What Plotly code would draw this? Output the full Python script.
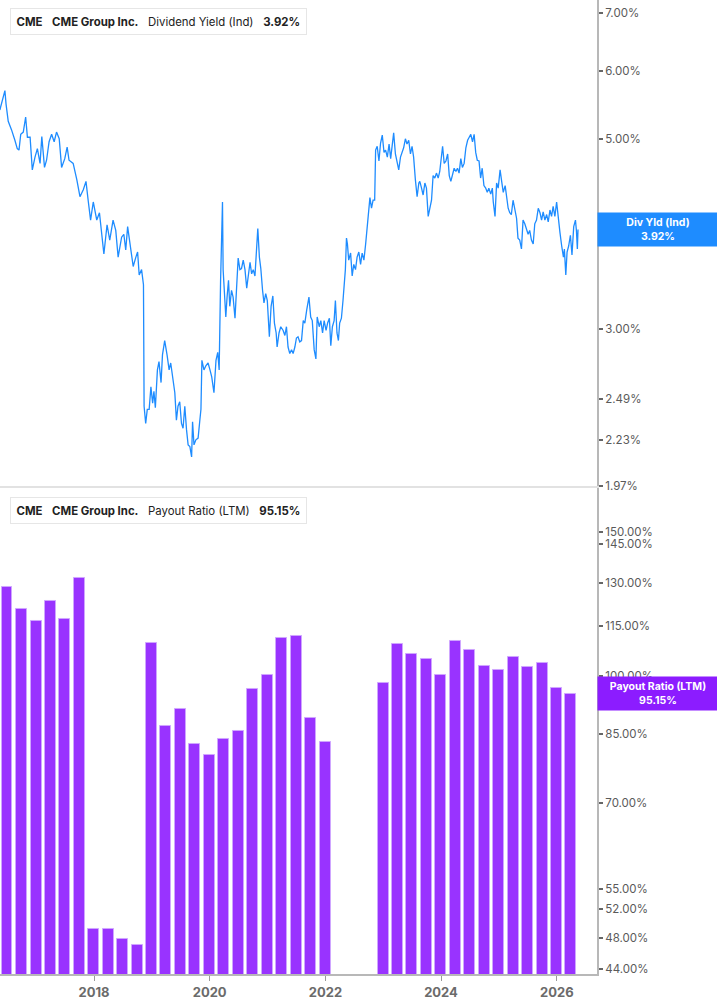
import numpy as np
import plotly.graph_objects as go

# --- Dividend yield (Ind), % ---
yield_dates = [
    "2016-05-16", "2016-05-27", "2016-06-07", "2016-06-17", "2016-06-24", "2016-07-08", "2016-07-29", "2016-08-09",
    "2016-08-19", "2016-09-03", "2016-09-14", "2016-09-25", "2016-10-11", "2016-10-26", "2016-11-06", "2016-11-23",
    "2016-12-07", "2016-12-24", "2017-01-08", "2017-01-25", "2017-02-05", "2017-02-22", "2017-03-07", "2017-03-23",
    "2017-04-08", "2017-04-24", "2017-05-09", "2017-05-26", "2017-06-10", "2017-06-30", "2017-07-15", "2017-07-27",
    "2017-08-22", "2017-09-14", "2017-10-04", "2017-10-25", "2017-11-11", "2017-11-26", "2017-12-10", "2017-12-27",
    "2018-01-18", "2018-02-04", "2018-02-19", "2018-03-04", "2018-03-24", "2018-04-10", "2018-05-01", "2018-05-18",
    "2018-06-02", "2018-06-24", "2018-07-08", "2018-07-20", "2018-08-01", "2018-08-20", "2018-09-05", "2018-09-22",
    "2018-10-03", "2018-10-13", "2018-10-28", "2018-11-09", "2018-11-13", "2018-11-23", "2018-12-03", "2018-12-15",
    "2018-12-26", "2019-01-06", "2019-01-14", "2019-01-23", "2019-02-05", "2019-02-15", "2019-02-28", "2019-03-09",
    "2019-03-23", "2019-04-07", "2019-04-20", "2019-04-30", "2019-05-15", "2019-05-26", "2019-06-05", "2019-06-15",
    "2019-06-26", "2019-07-07", "2019-07-17", "2019-07-28", "2019-08-08", "2019-08-18", "2019-08-29", "2019-09-09",
    "2019-09-15", "2019-09-24", "2019-10-06", "2019-10-20", "2019-10-31", "2019-11-07", "2019-11-13", "2019-11-26",
    "2019-12-08", "2019-12-22", "2020-01-03", "2020-01-14", "2020-01-28", "2020-02-10", "2020-02-21", "2020-03-01",
    "2020-03-10", "2020-03-18", "2020-03-22", "2020-03-26", "2020-04-04", "2020-04-12", "2020-04-20", "2020-04-29",
    "2020-05-07", "2020-05-18", "2020-05-28", "2020-06-09", "2020-06-19", "2020-06-29", "2020-07-10", "2020-07-20",
    "2020-07-31", "2020-08-11", "2020-08-22", "2020-09-01", "2020-09-12", "2020-09-22", "2020-10-02", "2020-10-13",
    "2020-10-24", "2020-10-31", "2020-11-10", "2020-11-19", "2020-11-30", "2020-12-09", "2020-12-20", "2020-12-30",
    "2021-01-12", "2021-01-23", "2021-02-03", "2021-02-13", "2021-02-24", "2021-03-02", "2021-03-14", "2021-03-25",
    "2021-04-09", "2021-04-20", "2021-04-30", "2021-05-10", "2021-05-21", "2021-06-01", "2021-06-11", "2021-06-22",
    "2021-07-02", "2021-07-12", "2021-07-23", "2021-08-03", "2021-08-14", "2021-08-24", "2021-09-05", "2021-09-19",
    "2021-09-30", "2021-10-10", "2021-10-22", "2021-11-02", "2021-11-10", "2021-11-23", "2021-12-03", "2021-12-14",
    "2021-12-24", "2022-01-05", "2022-01-15", "2022-01-26", "2022-02-04", "2022-02-14", "2022-02-25", "2022-03-05",
    "2022-03-15", "2022-03-24", "2022-04-01", "2022-04-12", "2022-04-22", "2022-04-29", "2022-05-07", "2022-05-14",
    "2022-05-20", "2022-05-28", "2022-06-09", "2022-06-19", "2022-06-29", "2022-07-10", "2022-07-20", "2022-07-31",
    "2022-08-11", "2022-08-21", "2022-09-01", "2022-09-12", "2022-09-22", "2022-09-28", "2022-10-09", "2022-10-19",
    "2022-10-29", "2022-11-08", "2022-11-14", "2022-11-24", "2022-12-05", "2022-12-15", "2022-12-26", "2023-01-06",
    "2023-01-16", "2023-01-27", "2023-02-07", "2023-02-17", "2023-02-27", "2023-03-08", "2023-03-19", "2023-03-29",
    "2023-04-09", "2023-04-20", "2023-04-30", "2023-05-10", "2023-05-21", "2023-05-31", "2023-06-11", "2023-06-22",
    "2023-07-02", "2023-07-12", "2023-07-23", "2023-08-03", "2023-08-14", "2023-08-20", "2023-08-31", "2023-09-10",
    "2023-09-21", "2023-10-01", "2023-10-12", "2023-10-22", "2023-11-02", "2023-11-12", "2023-11-23", "2023-12-03",
    "2023-12-14", "2023-12-24", "2024-01-05", "2024-01-11", "2024-01-21", "2024-02-01", "2024-02-12", "2024-02-22",
    "2024-03-03", "2024-03-14", "2024-03-24", "2024-04-04", "2024-04-14", "2024-04-24", "2024-05-05", "2024-05-15",
    "2024-05-26", "2024-06-06", "2024-06-17", "2024-06-27", "2024-07-07", "2024-07-18", "2024-07-28", "2024-08-07",
    "2024-08-17", "2024-08-28", "2024-09-07", "2024-09-17", "2024-09-28", "2024-10-09", "2024-10-19", "2024-10-29",
    "2024-11-10", "2024-11-20", "2024-11-26", "2024-12-07", "2024-12-17", "2024-12-27", "2025-01-08", "2025-01-18",
    "2025-01-28", "2025-02-09", "2025-02-19", "2025-02-28", "2025-03-10", "2025-03-20", "2025-03-31", "2025-04-11",
    "2025-04-22", "2025-05-01", "2025-05-12", "2025-05-23", "2025-06-02", "2025-06-13", "2025-06-24", "2025-07-04",
    "2025-07-14", "2025-07-25", "2025-08-05", "2025-08-15", "2025-08-26", "2025-09-06", "2025-09-17", "2025-09-27",
    "2025-10-07", "2025-10-18", "2025-10-29", "2025-11-08", "2025-11-19", "2025-11-29", "2025-12-09", "2025-12-20",
    "2025-12-31", "2026-01-10", "2026-01-21", "2026-02-01", "2026-02-12", "2026-02-18", "2026-02-27", "2026-03-07",
    "2026-03-17", "2026-03-28", "2026-04-07", "2026-04-18", "2026-04-29", "2026-05-05", "2026-05-11", "2026-05-15",
]
div_yield = [
    5.40, 5.49, 5.58, 5.69, 5.49, 5.24, 5.12, 5.06,
    4.98, 4.87, 4.85, 5.06, 5.09, 5.30, 5.02, 5.02,
    4.60, 4.76, 4.87, 4.68, 5.03, 4.63, 4.72, 4.96,
    5.06, 4.96, 5.09, 5.00, 4.63, 4.74, 4.89, 4.72,
    4.68, 4.48, 4.28, 4.36, 4.46, 4.22, 4.02, 4.22,
    4.02, 4.10, 3.84, 3.67, 3.97, 3.81, 4.02, 3.91,
    3.64, 3.84, 3.87, 3.71, 3.95, 3.75, 3.55, 3.64,
    3.69, 3.47, 3.52, 3.38, 2.44, 2.33, 2.42, 2.42,
    2.57, 2.46, 2.54, 2.43, 2.69, 2.75, 2.60, 2.80,
    2.91, 2.80, 2.69, 2.74, 2.59, 2.53, 2.35, 2.44,
    2.47, 2.33, 2.30, 2.44, 2.29, 2.20, 2.19, 2.13,
    2.34, 2.20, 2.23, 2.24, 2.35, 2.42, 2.76, 2.69,
    2.72, 2.74, 2.69, 2.64, 2.53, 2.76, 2.82, 2.69,
    3.42, 3.97, 4.22, 3.52, 3.33, 3.10, 3.27, 3.42,
    3.19, 3.33, 3.27, 3.09, 3.35, 3.63, 3.52, 3.53,
    3.61, 3.52, 3.35, 3.47, 3.59, 3.48, 3.52, 3.46,
    3.69, 3.93, 3.64, 3.53, 3.33, 3.22, 3.30, 3.24,
    2.94, 3.19, 3.28, 3.05, 2.97, 2.86, 2.97, 3.02,
    2.99, 2.95, 3.02, 2.86, 2.81, 2.84, 2.81, 2.86,
    2.93, 2.94, 2.90, 2.91, 3.07, 3.05, 3.16, 3.27,
    3.10, 3.07, 2.84, 2.77, 3.10, 3.02, 3.07, 2.97,
    3.07, 2.99, 3.05, 3.09, 2.87, 3.02, 3.07, 3.24,
    2.97, 2.91, 3.05, 3.09, 3.24, 3.38, 3.52, 3.83,
    3.77, 3.61, 3.68, 3.46, 3.57, 3.52, 3.64, 3.69,
    3.57, 3.68, 3.61, 3.77, 3.97, 4.06, 4.27, 4.15,
    4.24, 4.24, 4.85, 4.90, 4.71, 4.94, 5.05, 4.82,
    4.85, 4.76, 4.93, 4.74, 4.93, 5.08, 4.80, 4.72,
    4.60, 4.76, 4.82, 4.88, 5.00, 4.93, 4.98, 4.80,
    4.90, 4.76, 4.48, 4.28, 4.44, 4.46, 4.38, 4.30,
    4.44, 4.38, 4.06, 4.17, 4.24, 4.53, 4.50, 4.56,
    4.50, 4.58, 4.80, 4.90, 4.68, 4.71, 4.80, 4.53,
    4.46, 4.53, 4.62, 4.58, 4.62, 4.56, 4.74, 4.63,
    4.68, 4.88, 4.98, 5.02, 5.06, 4.96, 5.06, 4.82,
    4.72, 4.71, 4.50, 4.62, 4.41, 4.38, 4.33, 4.38,
    4.31, 4.38, 4.22, 4.06, 4.44, 4.38, 4.60, 4.46,
    4.33, 4.41, 4.28, 4.15, 4.10, 4.08, 4.24, 4.13,
    4.04, 3.83, 3.81, 3.72, 4.02, 3.98, 3.93, 3.87,
    3.91, 3.81, 3.77, 3.98, 4.02, 4.15, 4.10, 4.02,
    4.11, 4.02, 4.08, 4.00, 4.13, 4.06, 4.17, 4.06,
    4.22, 4.02, 3.89, 3.75, 3.64, 3.72, 3.47, 3.69,
    3.75, 3.86, 3.66, 3.95, 4.02, 3.91, 3.72, 3.92,
]

# --- Payout ratio (LTM), %, quarter ends ---
quarter_ends = [
    "2016-06-30", "2016-09-30", "2016-12-31", "2017-03-31", "2017-06-30", "2017-09-30", "2017-12-31",
    "2018-03-31", "2018-06-30", "2018-09-30", "2018-12-31", "2019-03-31", "2019-06-30", "2019-09-30",
    "2019-12-31", "2020-03-31", "2020-06-30", "2020-09-30", "2020-12-31", "2021-03-31", "2021-06-30",
    "2021-09-30", "2021-12-31", "2022-03-31", "2022-06-30", "2022-09-30", "2022-12-31", "2023-03-31",
    "2023-06-30", "2023-09-30", "2023-12-31", "2024-03-31", "2024-06-30", "2024-09-30", "2024-12-31",
    "2025-03-31", "2025-06-30", "2025-09-30", "2025-12-31", "2026-03-31",
]
payout = [
    128.3, 120.7, 116.6, 123.3, 117.4, 131.8, 49.1,
    49.2, 47.8, 47.0, 109.6, 86.9, 91.1, 82.6,
    80.1, 83.9, 85.8, 96.4, 100.2, 111.3, 111.9,
    89.0, 83.0, None, None, None, 98.0, 109.3,
    106.3, 104.9, 100.3, 110.3, 107.5, 102.8, 101.7,
    105.4, 102.5, 103.6, 96.6, 95.15,
]

yield_ticks = [1.97, 2.23, 2.49, 3.00, 4.00, 5.00, 6.00, 7.00]
payout_ticks = [44, 48, 52, 55, 70, 85, 100, 115, 130, 145, 150]
year_ticks = ["2018-01-01", "2020-01-01", "2022-01-01", "2024-01-01", "2026-01-01"]
year_labels = ["2018", "2020", "2022", "2024", "2026"]

last_yield = 3.92
last_payout = 95.15

BLUE = "#1e8cff"
PURPLE = "#9933ff"
FONT = "Inter"

fig = go.Figure()

fig.add_trace(go.Scatter(
    x=yield_dates, y=div_yield, mode="lines",
    line=dict(color=BLUE, width=1.3),
    xaxis="x2", yaxis="y", showlegend=False,
))

fig.add_trace(go.Bar(
    x=quarter_ends, y=payout,
    width=69 * 24 * 3600 * 1000,
    marker=dict(color=PURPLE, line=dict(color="#cfa6ff", width=1)),
    xaxis="x", yaxis="y2", showlegend=False,
))

axis_font = dict(family=FONT, size=11.5, color="#5a5a5a")

fig.update_layout(
    width=717, height=1005,
    margin=dict(l=0, r=120, t=0, b=31),
    paper_bgcolor="white", plot_bgcolor="white",
    font=dict(family=FONT),
    bargap=0,
    xaxis=dict(
        domain=[0, 1], anchor="y2", type="date",
        range=["2016-05-17", "2026-09-12"],
        tickvals=year_ticks, ticktext=[f"<b>{t}</b>" for t in year_labels],
        tickfont=dict(family=FONT, size=13, color="#6b6b6b"),
        ticks="outside", ticklen=5, tickcolor="#9a9a9a", tickwidth=1,
        showline=True, linecolor="#b8b8b8", linewidth=2,
        showgrid=False, zeroline=False,
    ),
    xaxis2=dict(
        matches="x", anchor="y", type="date",
        showticklabels=False, ticks="",
        showline=True, linecolor="#e2e2e2", linewidth=2,
        showgrid=False, zeroline=False,
    ),
    yaxis=dict(
        domain=[0.501, 1], anchor="x2", side="right", type="log",
        range=[np.log10(1.97), np.log10(7.254)],
        tickvals=yield_ticks, ticktext=[f"{v:.2f}%" for v in yield_ticks],
        tickfont=axis_font,
        ticks="outside", ticklen=4, tickcolor="#666666", tickwidth=1.5,
        showline=True, linecolor="#b8b8b8", linewidth=2,
        showgrid=False, zeroline=False,
    ),
    yaxis2=dict(
        domain=[0, 0.499], anchor="x", side="right", type="log",
        range=[np.log10(43.33), np.log10(169.5)],
        tickvals=payout_ticks, ticktext=[f"{v:.2f}%" for v in payout_ticks],
        tickfont=axis_font,
        ticks="outside", ticklen=4, tickcolor="#666666", tickwidth=1.5,
        showline=True, linecolor="#b8b8b8", linewidth=2,
        showgrid=False, zeroline=False,
    ),
)

# value labels on the right axis
fig.add_annotation(
    x=1, xref="paper", xanchor="left",
    y=np.log10(last_yield), yref="y", yanchor="middle",
    text=f"<b>Div Yld (Ind)</b><br><b>{last_yield:.2f}%</b>",
    showarrow=False, align="center", width=114, borderpad=3,
    bgcolor=BLUE, font=dict(family=FONT, size=10.5, color="white"),
)
fig.add_annotation(
    x=1, xref="paper", xanchor="left",
    y=np.log10(last_payout), yref="y2", yanchor="middle",
    text=f"<b>Payout Ratio (LTM)</b><br><b>{last_payout:.2f}%</b>",
    showarrow=False, align="center", width=114, borderpad=3,
    bgcolor="#8c1cff", font=dict(family=FONT, size=10.5, color="white"),
)

# legend boxes (top-left of each panel)
plot_w, plot_h = 597, 974
sp = "&nbsp;&nbsp;&nbsp;"
legends = [
    (8, BLUE, f"<b>CME</b>{sp}<b>CME Group Inc.</b>{sp}Dividend Yield (Ind){sp}<b>{last_yield:.2f}%</b>"),
    (497, "#8c1cff", f"<b>CME</b>{sp}<b>CME Group Inc.</b>{sp}Payout Ratio (LTM){sp}<b>{last_payout:.2f}%</b>"),
]
for top_px, col, txt in legends:
    fig.add_annotation(
        x=10 / plot_w, xref="paper", xanchor="left",
        y=1 - top_px / plot_h, yref="paper", yanchor="top",
        text=txt, showarrow=False, align="left",
        font=dict(family=FONT, size=11.4, color="#222222"),
        bgcolor="white", bordercolor="#e6e6e6", borderwidth=1, borderpad=5.5,
    )
    fig.add_shape(
        type="rect", xref="paper", yref="paper",
        x0=10 / plot_w, x1=13 / plot_w,
        y0=1 - (top_px + 25) / plot_h, y1=1 - top_px / plot_h,
        fillcolor=col, line=dict(width=0), layer="above",
    )

# the page's default body margin would shift the 717x1005 figure
fig.write_html(
    "out.html",
    config={"displayModeBar": False},
    post_script="document.body.style.margin='0';document.body.style.overflow='hidden';",
)
